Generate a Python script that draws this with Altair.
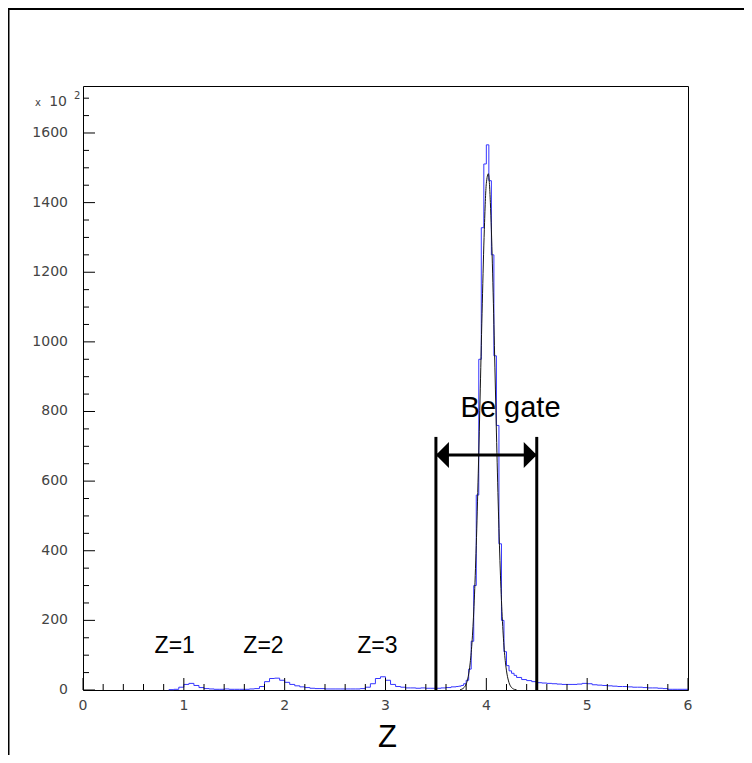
import altair as alt
import pandas as pd

# ---------------- data ----------------
# blue histogram: bin left edges and counts (units of 10^2)
hist_edges = [0.85, 0.90, 0.95, 1.00, 1.05, 1.10, 1.15, 1.20, 1.25, 1.30,
              1.35, 1.40, 1.45, 1.50, 1.55, 1.60, 1.65, 1.70, 1.75, 1.80,
              1.85, 1.90, 1.95, 2.00, 2.05, 2.10, 2.15, 2.20, 2.25, 2.30,
              2.35, 2.40, 2.45, 2.50, 2.55, 2.60, 2.65, 2.70, 2.75, 2.80,
              2.85, 2.90, 2.95, 3.00, 3.05, 3.10, 3.15, 3.20, 3.25, 3.30,
              3.35, 3.40, 3.45, 3.50, 3.55, 3.60, 3.65,
              3.700, 3.725, 3.750, 3.775, 3.800, 3.825, 3.850, 3.875, 3.900, 3.925,
              3.950, 3.975, 4.000, 4.025, 4.050, 4.075, 4.100, 4.125, 4.150, 4.175,
              4.200, 4.225, 4.250, 4.275,
              4.30, 4.35, 4.40, 4.45, 4.50, 4.55, 4.60, 4.65, 4.70, 4.75,
              4.80, 4.85, 4.90, 4.95, 5.00, 5.05, 5.10, 5.15, 5.20, 5.25,
              5.30, 5.35, 5.40, 5.45, 5.50, 5.55, 5.60, 5.65, 5.70, 5.75,
              5.80, 5.85, 5.90, 5.95, 6.00]
hist_counts = [1, 2, 8, 16, 19, 13, 7, 4, 3, 2,
               2, 3, 2, 2, 2, 2, 3, 4, 10, 24,
               33, 34, 28, 22, 16, 12, 9, 7, 5, 4,
               4, 3, 3, 3, 3, 3, 3, 3, 4, 8,
               18, 33, 38, 28, 16, 10, 8, 6, 6, 5,
               6, 5, 5, 5, 6, 7, 9,
               10, 11, 13, 18, 28, 60, 140, 300, 560, 950,
               1328, 1511, 1566, 1463, 1250, 960, 760, 420, 200, 110,
               70, 55, 48, 42,
               36, 30, 27, 24, 21, 20, 19, 18, 17, 16,
               16, 16, 17, 19, 18, 15, 14, 13, 12, 11,
               10, 10, 9, 8, 8, 7, 6, 6, 5, 4,
               2, 2, 2, 2, 2]

# black fit curve
fit_x = [3.74, 3.76, 3.78, 3.80, 3.82, 3.84, 3.86, 3.88, 3.90, 3.92,
         3.94, 3.96, 3.98, 4.00, 4.02, 4.04, 4.06, 4.08, 4.10, 4.12,
         4.14, 4.16, 4.18, 4.20, 4.22, 4.24, 4.26, 4.28, 4.30]
fit_y = [1.0, 2.8, 7.3, 17, 38, 78, 146, 256, 415, 623,
         865, 1111, 1322, 1455, 1483, 1400, 1224, 989, 741, 514,
         330, 196, 108, 55, 26, 11, 4.6, 1.7, 0.5]

# gate
gate_x = [3.5, 4.5]
gate_top = [727, 727]
arrow_y = 675

# annotations
ann_text = ["Z=1", "Z=2", "Z=3"]
ann_x = [0.91, 1.79, 2.92]
ann_y = [106, 106, 106]
gate_label = "Be gate"
gate_label_x = 4.24
gate_label_y = 783
x_title = "Z"
exponent = ["x", "10", "2"]

# axes
x_labels = [0, 1, 2, 3, 4, 5, 6]
x_minor = [0.2, 0.4, 0.6, 0.8, 1.2, 1.4, 1.6, 1.8, 2.2, 2.4, 2.6, 2.8,
           3.2, 3.4, 3.6, 3.8, 4.2, 4.4, 4.6, 4.8, 5.2, 5.4, 5.6, 5.8]
y_labels = [0, 200, 400, 600, 800, 1000, 1200, 1400, 1600]
y_minor = [50, 100, 150, 250, 300, 350, 450, 500, 550, 650, 700, 750,
           850, 900, 950, 1050, 1100, 1150, 1250, 1300, 1350, 1450, 1500,
           1550, 1650, 1700]

# ---------------- chart ----------------
W, H = 605, 604
xs = alt.Scale(domain=[0, 6], nice=False, zero=False)
ys = alt.Scale(domain=[0, 1735], nice=False, zero=False)
FONT = "Liberation Sans"
TFONT = "DejaVu Sans"
LBL = "#444444"


def X(f="x"):
    return alt.X(f"{f}:Q", scale=xs, axis=None)


def Y(f="y"):
    return alt.Y(f"{f}:Q", scale=ys, axis=None)


hist_df = pd.DataFrame({"x": hist_edges, "y": hist_counts})
fit_df = pd.DataFrame({"x": fit_x, "y": fit_y})
one = pd.DataFrame({"a": [0]})

hist = alt.Chart(hist_df).mark_line(
    interpolate="step-after", color="#3535ff", strokeWidth=1
).encode(x=X(), y=Y())

fit = alt.Chart(fit_df).mark_line(
    interpolate="monotone", color="#151515", strokeWidth=1
).encode(x=X(), y=Y())

gate_df = pd.DataFrame({"x": gate_x, "y": gate_top, "y0": [0, 0]})
gates = alt.Chart(gate_df).mark_rule(color="black", strokeWidth=3).encode(
    x=X(), y=Y(), y2="y0:Q")

arrow_df = pd.DataFrame({"x": [gate_x[0]], "x2": [gate_x[1]], "y": [arrow_y]})
arrow = alt.Chart(arrow_df).mark_rule(color="black", strokeWidth=3).encode(
    x=X(), x2="x2:Q", y=Y())
head_l = alt.Chart(pd.DataFrame({"x": [gate_x[0]], "y": [arrow_y]})).mark_point(
    shape="M0,0L1,-1L1,1Z", filled=True, color="black", opacity=1, size=676, strokeWidth=0
).encode(x=X(), y=Y())
head_r = alt.Chart(pd.DataFrame({"x": [gate_x[1]], "y": [arrow_y]})).mark_point(
    shape="M0,0L-1,-1L-1,1Z", filled=True, color="black", opacity=1, size=676, strokeWidth=0
).encode(x=X(), y=Y())

ann_df = pd.DataFrame({"t": ann_text, "x": ann_x, "y": ann_y})
ann = alt.Chart(ann_df).mark_text(
    font=FONT, fontSize=23, color="black", align="center", baseline="alphabetic"
).encode(x=X(), y=Y(), text="t:N")
gl_df = pd.DataFrame({"t": [gate_label], "x": [gate_label_x], "y": [gate_label_y]})
gl = alt.Chart(gl_df).mark_text(
    font=FONT, fontSize=29, color="black", align="center", baseline="alphabetic"
).encode(x=X(), y=Y(), text="t:N")

# inward ticks (ROOT style)
xmaj = alt.Chart(pd.DataFrame({"x": x_labels})).mark_rule(color="black", strokeWidth=1).encode(
    x=X(), y=alt.value(H), y2=alt.value(H - 12))
xmin = alt.Chart(pd.DataFrame({"x": x_minor})).mark_rule(color="black", strokeWidth=1).encode(
    x=X(), y=alt.value(H), y2=alt.value(H - 6))
ymaj = alt.Chart(pd.DataFrame({"y": y_labels})).mark_rule(color="black", strokeWidth=1).encode(
    y=Y(), x=alt.value(0), x2=alt.value(12))
ymin = alt.Chart(pd.DataFrame({"y": y_minor})).mark_rule(color="black", strokeWidth=1).encode(
    y=Y(), x=alt.value(0), x2=alt.value(6))

# tick labels
xl_df = pd.DataFrame({"x": x_labels, "t": [str(v) for v in x_labels]})
xlab = alt.Chart(xl_df).mark_text(
    font=TFONT, fontSize=14, color=LBL, align="center", baseline="top"
).encode(x=X(), y=alt.value(H + 9), text="t:N")
yl_df = pd.DataFrame({"y": y_labels, "t": [str(v) for v in y_labels]})
ylab = alt.Chart(yl_df).mark_text(
    font=TFONT, fontSize=14, color=LBL, align="right", baseline="middle"
).encode(y=Y(), x=alt.value(-15), text="t:N")

# axis title
xtitle = alt.Chart(one).mark_text(
    font=FONT, fontSize=31, color="black", align="center", baseline="bottom"
).encode(x=alt.value(W / 2 + 2), y=alt.value(H + 64), text=alt.value(x_title))

# "x 10^2" exponent label
exp_x = alt.Chart(one).mark_text(font=TFONT, fontSize=10, color=LBL, align="right",
                                 baseline="alphabetic").encode(
    x=alt.value(-42), y=alt.value(20), text=alt.value(exponent[0]))
exp_10 = alt.Chart(one).mark_text(font=TFONT, fontSize=14, color=LBL, align="right",
                                  baseline="alphabetic").encode(
    x=alt.value(-16), y=alt.value(20), text=alt.value(exponent[1]))
exp_2 = alt.Chart(one).mark_text(font=TFONT, fontSize=10, color=LBL, align="left",
                                 baseline="alphabetic").encode(
    x=alt.value(-9), y=alt.value(13), text=alt.value(exponent[2]))

# canvas border (ROOT pad frame)
border_l = alt.Chart(one).mark_rule(color="black", strokeWidth=2).encode(
    x=alt.value(-74.5), y=alt.value(-77), y2=alt.value(720))
border_t = alt.Chart(one).mark_rule(color="black", strokeWidth=2).encode(
    x=alt.value(-75), x2=alt.value(720), y=alt.value(-77))

chart = alt.layer(
    hist, fit, gates, arrow, head_l, head_r, ann, gl,
    xmaj, xmin, ymaj, ymin, xlab, ylab, xtitle,
    exp_x, exp_10, exp_2, border_l, border_t
).properties(
    width=W, height=H,
    padding={"left": 75, "top": 78, "right": 56, "bottom": 65},
    autosize=alt.AutoSizeParams(type="none"),
    background="white",
).configure_view(
    stroke="black", strokeWidth=1
)

chart.save("out.html", embed_options={"renderer": "svg", "actions": False})
